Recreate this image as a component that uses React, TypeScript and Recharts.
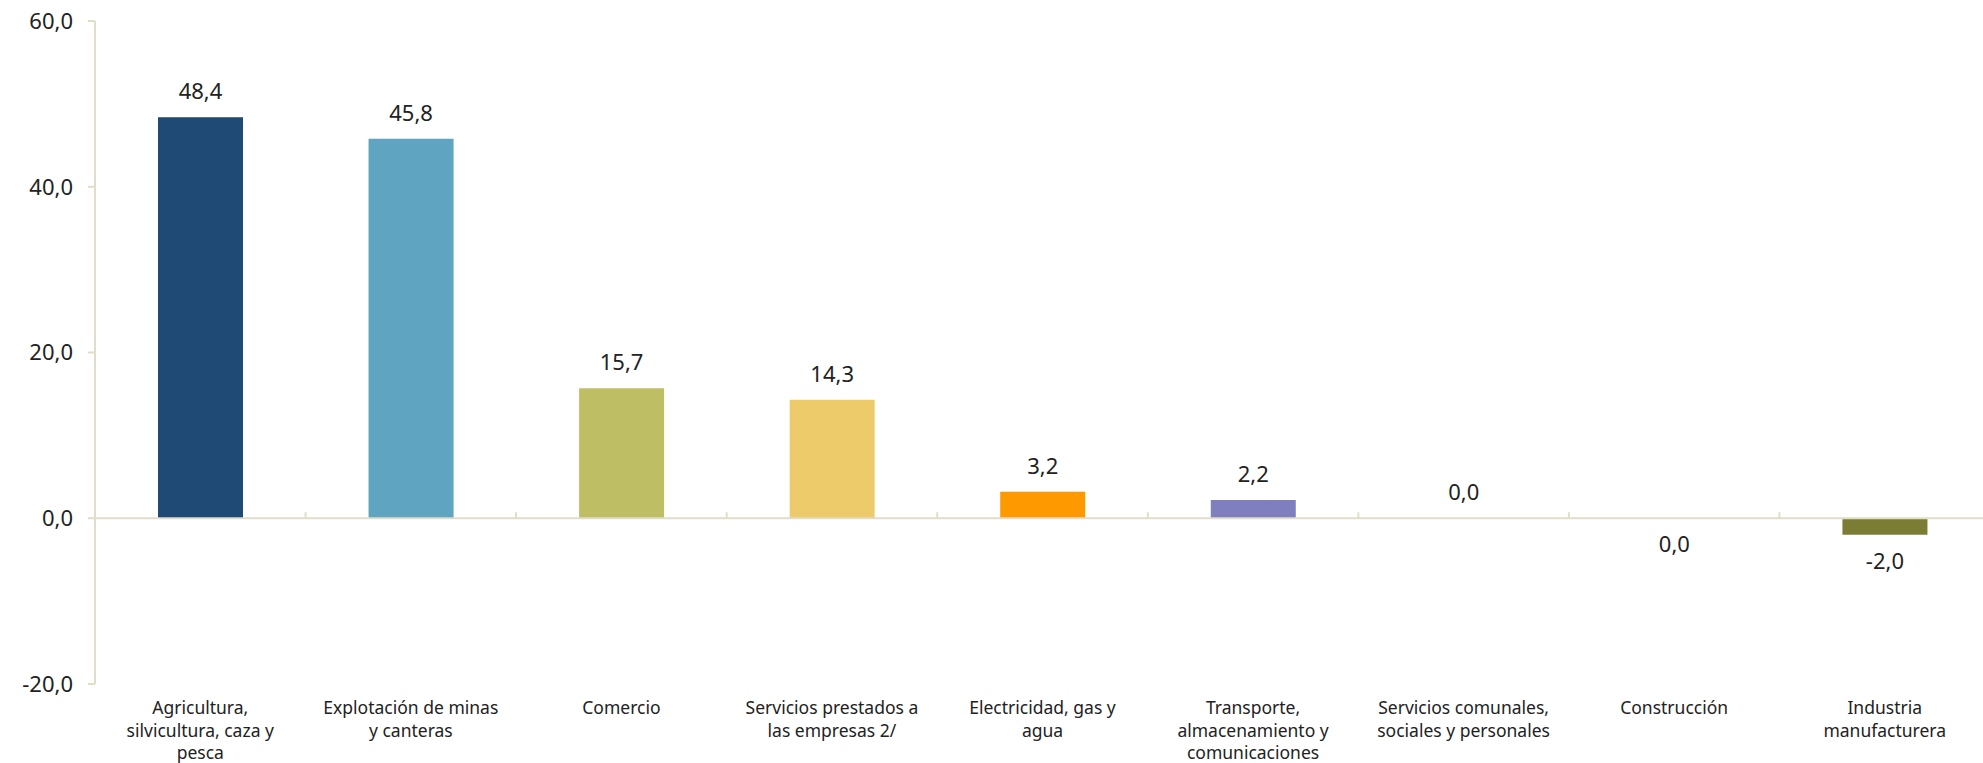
import React from 'react';
import { BarChart, Bar, XAxis, YAxis, Cell, LabelList, ReferenceLine } from 'recharts';

// Sectors, in the order shown
const categories = [
  'Agricultura, silvicultura, caza y pesca',
  'Explotación de minas y canteras',
  'Comercio',
  'Servicios prestados a las empresas 2/',
  'Electricidad, gas y agua',
  'Transporte, almacenamiento y comunicaciones',
  'Servicios comunales, sociales y personales',
  'Construcción',
  'Industria manufacturera',
];

// how each tick label is broken into lines
const categoryLines = [
  ['Agricultura,', 'silvicultura, caza y', 'pesca'],
  ['Explotación de minas', 'y canteras'],
  ['Comercio'],
  ['Servicios prestados a', 'las empresas 2/'],
  ['Electricidad, gas y', 'agua'],
  ['Transporte,', 'almacenamiento y', 'comunicaciones'],
  ['Servicios comunales,', 'sociales y personales'],
  ['Construcción'],
  ['Industria', 'manufacturera'],
];

const values = [48.4, 45.8, 15.7, 14.3, 3.2, 2.2, 0.02, -0.02, -2.0];

const barColors = ['#1F4A75', '#5FA4C0', '#BEBF65', '#EDCB6A', '#FF9900', '#7F7FBF', '#9E9E9E', '#9E9E9E', '#7B7D35'];

const yTicks = [-20, 0, 20, 40, 60];

const data = categories.map((name, i) => ({ name, value: values[i], idx: i }));

const FONT = '"Noto Sans", sans-serif';
const AXIS = '#E2DDC7';
const fmt = (v: number) => v.toFixed(1).replace('.', ',').replace(/^-0,0$/, '0,0');

const CategoryTick = (props: any) => {
  const { x, y, payload } = props;
  const lines = categoryLines[payload.index] || [payload.value];
  return (
    <g>
      {lines.map((l: string, i: number) => (
        <text key={i} x={x} y={y + 23 + i * 22.5} textAnchor="middle" dominantBaseline="central"
          fontFamily={FONT} fontSize={17.5} fill="#222">
          {l}
        </text>
      ))}
    </g>
  );
};

const ValueLabel = (props: any) => {
  const { x, y, width, height, value } = props;
  const top = Math.min(y, y + height);
  const bottom = Math.max(y, y + height);
  const ly = value >= 0 ? top - 27 : bottom + 25;
  return (
    <text x={x + width / 2} y={ly} textAnchor="middle" dominantBaseline="central"
      fontFamily={FONT} fontSize={22} fill="#222">
      {fmt(value)}
    </text>
  );
};

// zero line with the small category separators pointing up
const ZeroLine = (props: any) => {
  const { x1, y1, x2 } = props;
  const step = (x2 - x1) / categories.length;
  return (
    <g>
      <line x1={x1} y1={y1} x2={x2} y2={y1} stroke={AXIS} strokeWidth={2} />
      {categories.slice(1).map((_, i) => (
        <line key={i} x1={x1 + step * (i + 1)} x2={x1 + step * (i + 1)} y1={y1} y2={y1 - 6} stroke={AXIS} strokeWidth={2} />
      ))}
    </g>
  );
};

export default function App() {
  return (
    <div style={{ position: 'absolute', left: 0, top: 0, width: 1983, height: 763, overflow: 'hidden', background: '#fff' }}>
      <BarChart width={1990} height={763} data={data} margin={{ top: 21, right: 0, bottom: 0, left: 0 }} barSize={85}>
        <XAxis dataKey="name" height={79} axisLine={false} tickLine={false} tickSize={0} tickMargin={0}
          interval={0} tick={<CategoryTick />} />
        <YAxis domain={[-20, 60]} ticks={yTicks} width={95} tickFormatter={fmt}
          axisLine={{ stroke: AXIS, strokeWidth: 2 }} tickLine={{ stroke: AXIS, strokeWidth: 2 }} tickSize={7} tickMargin={15}
          tick={{ fontFamily: FONT, fontSize: 22, fill: '#222' }} />
        <ReferenceLine y={0} shape={<ZeroLine />} />
        <Bar dataKey="value" isAnimationActive={false}>
          {data.map((d, i) => (
            <Cell key={i} fill={barColors[i]} />
          ))}
          <LabelList dataKey="value" content={<ValueLabel />} />
        </Bar>
      </BarChart>
    </div>
  );
}
